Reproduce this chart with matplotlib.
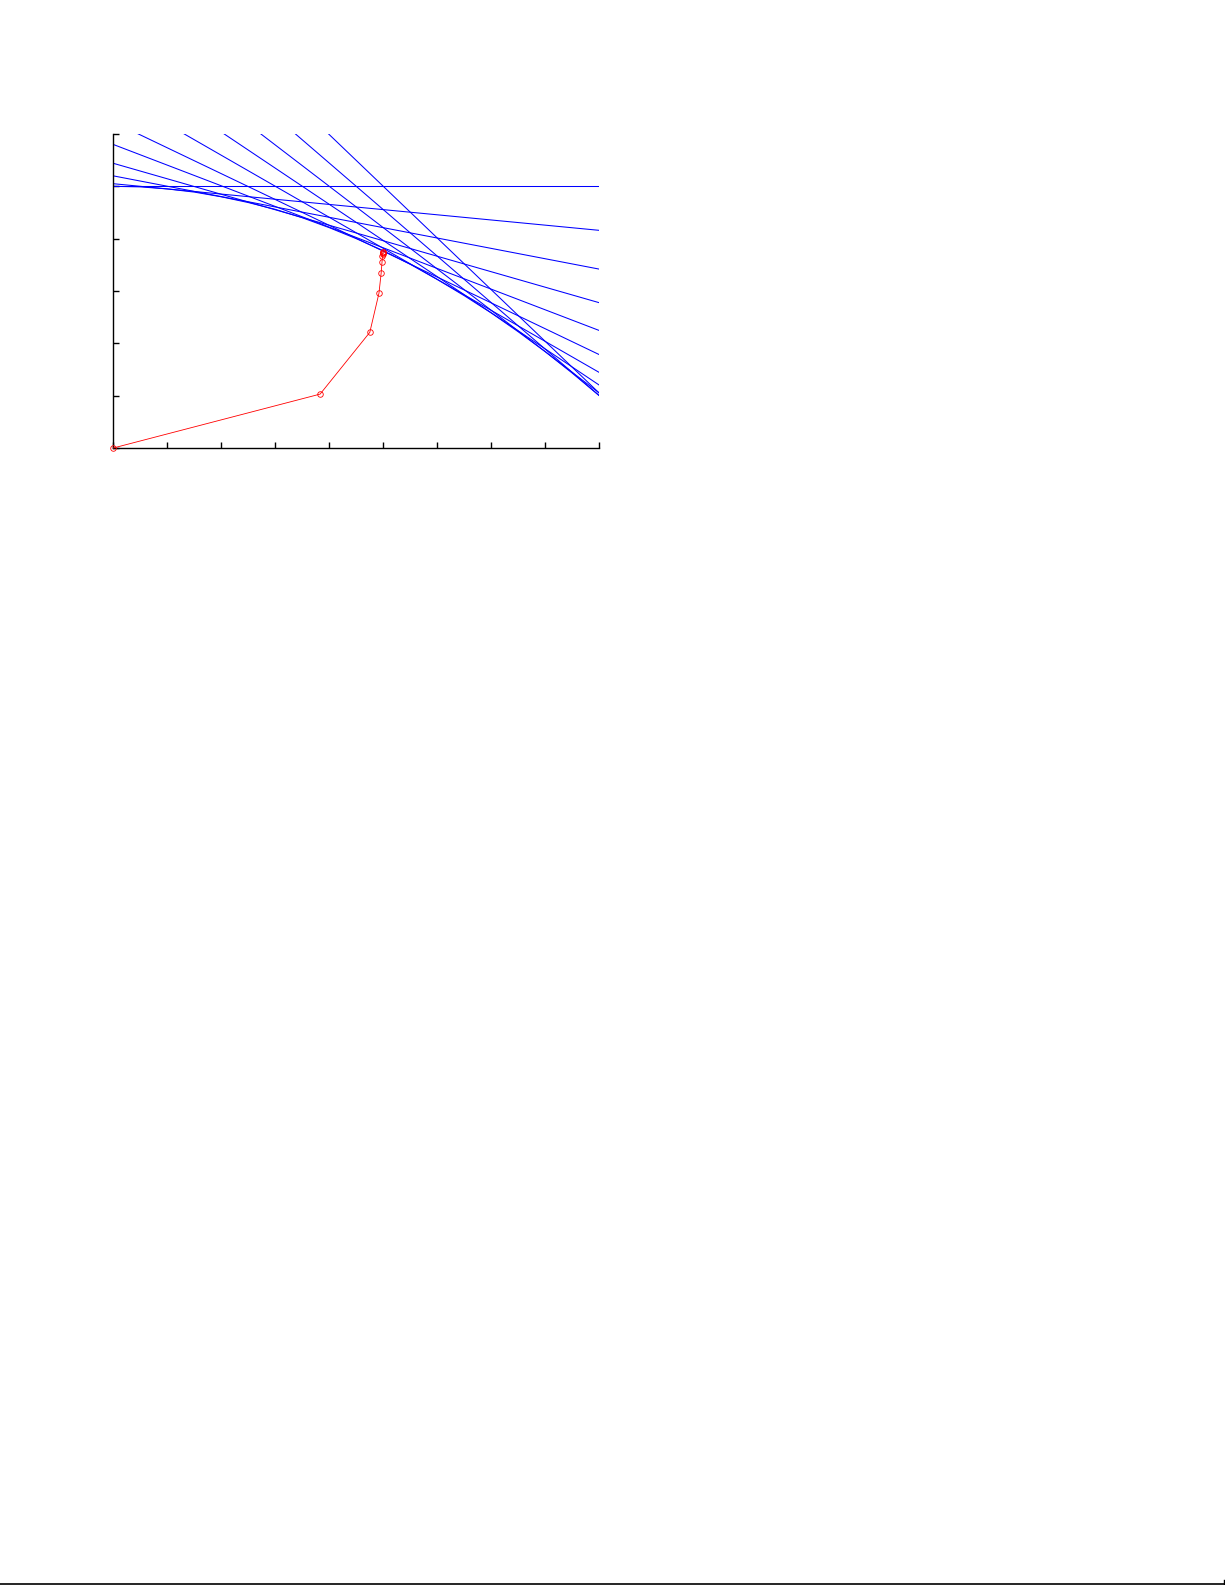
import matplotlib
matplotlib.use("Agg")
import matplotlib.pyplot as plt
from matplotlib.lines import Line2D

# Concave curve samples (x, y)
curve_x = [0.0, 0.5, 1.0, 1.5, 2.0, 2.5, 3.0, 3.5, 4.0, 4.5, 5.0, 5.5, 6.0, 6.5, 7.0, 7.5, 8.0, 8.5, 9.0]
curve_y = [5.00, 4.99, 4.95, 4.89, 4.80, 4.69, 4.56, 4.40, 4.21, 4.00, 3.77, 3.51, 3.22, 2.91, 2.58, 2.22, 1.84, 1.43, 1.00]

# Tangent lines: value at x=0 (intercept) and slope
line_intercepts = [5.00, 5.05, 5.20, 5.44, 5.80, 6.23, 6.78, 7.42, 8.16, 9.00, 9.94]
line_slopes = [0.000, -0.099, -0.198, -0.296, -0.395, -0.494, -0.593, -0.691, -0.790, -0.889, -0.988]

# Iterates (red path)
iter_x = [0.0, 3.83, 4.75, 4.92, 4.96, 4.976, 4.985, 4.99, 4.995, 4.998, 5.0]
iter_y = [0.0, 1.03, 2.21, 2.96, 3.34, 3.55, 3.66, 3.71, 3.73, 3.74, 3.75]

x_ticks = [0, 1, 2, 3, 4, 5, 6, 7, 8, 9]
y_ticks = [0, 1, 2, 3, 4, 5, 6]

fig = plt.figure(figsize=(12.25, 15.85), dpi=100)
ax = fig.add_axes([113.3 / 1225, 1 - 448 / 1585, 486 / 1225, 314 / 1585])

x_left, x_right = 0.0, 9.0
for b, m in zip(line_intercepts, line_slopes):
    ax.plot([x_left, x_right], [b + m * x_left, b + m * x_right],
            color=(0, 0, 1), lw=0.75)
ax.plot(curve_x, curve_y, color=(0, 0, 1), lw=0.75)

ax.plot(iter_x, iter_y, color=(1, 0, 0), lw=0.6, marker='o', markersize=4.0,
        markerfacecolor='none', markeredgecolor=(1, 0, 0), markeredgewidth=0.6,
        clip_on=False, zorder=5)

ax.set_xlim(0, 9)
ax.set_ylim(0, 6)
ax.set_xticks(x_ticks)
ax.set_yticks(y_ticks)
ax.set_xticklabels([])
ax.set_yticklabels([])
ax.tick_params(direction='in', length=4, width=1.0)
ax.spines['top'].set_visible(False)
ax.spines['right'].set_visible(False)
ax.spines['left'].set_linewidth(1.0)
ax.spines['bottom'].set_linewidth(1.0)

# Page-edge line at the very bottom
yb = 1 - 1583.5 / 1585
fig.add_artist(Line2D([0, 1223.5 / 1225], [yb, yb], transform=fig.transFigure,
                      color='black', lw=1.2))
fig.add_artist(Line2D([1223.5 / 1225, 1223.5 / 1225], [yb, 1 - 1580 / 1585],
                      transform=fig.transFigure, color='black', lw=1.0))

fig.savefig("out.png", dpi=100, facecolor='white')
